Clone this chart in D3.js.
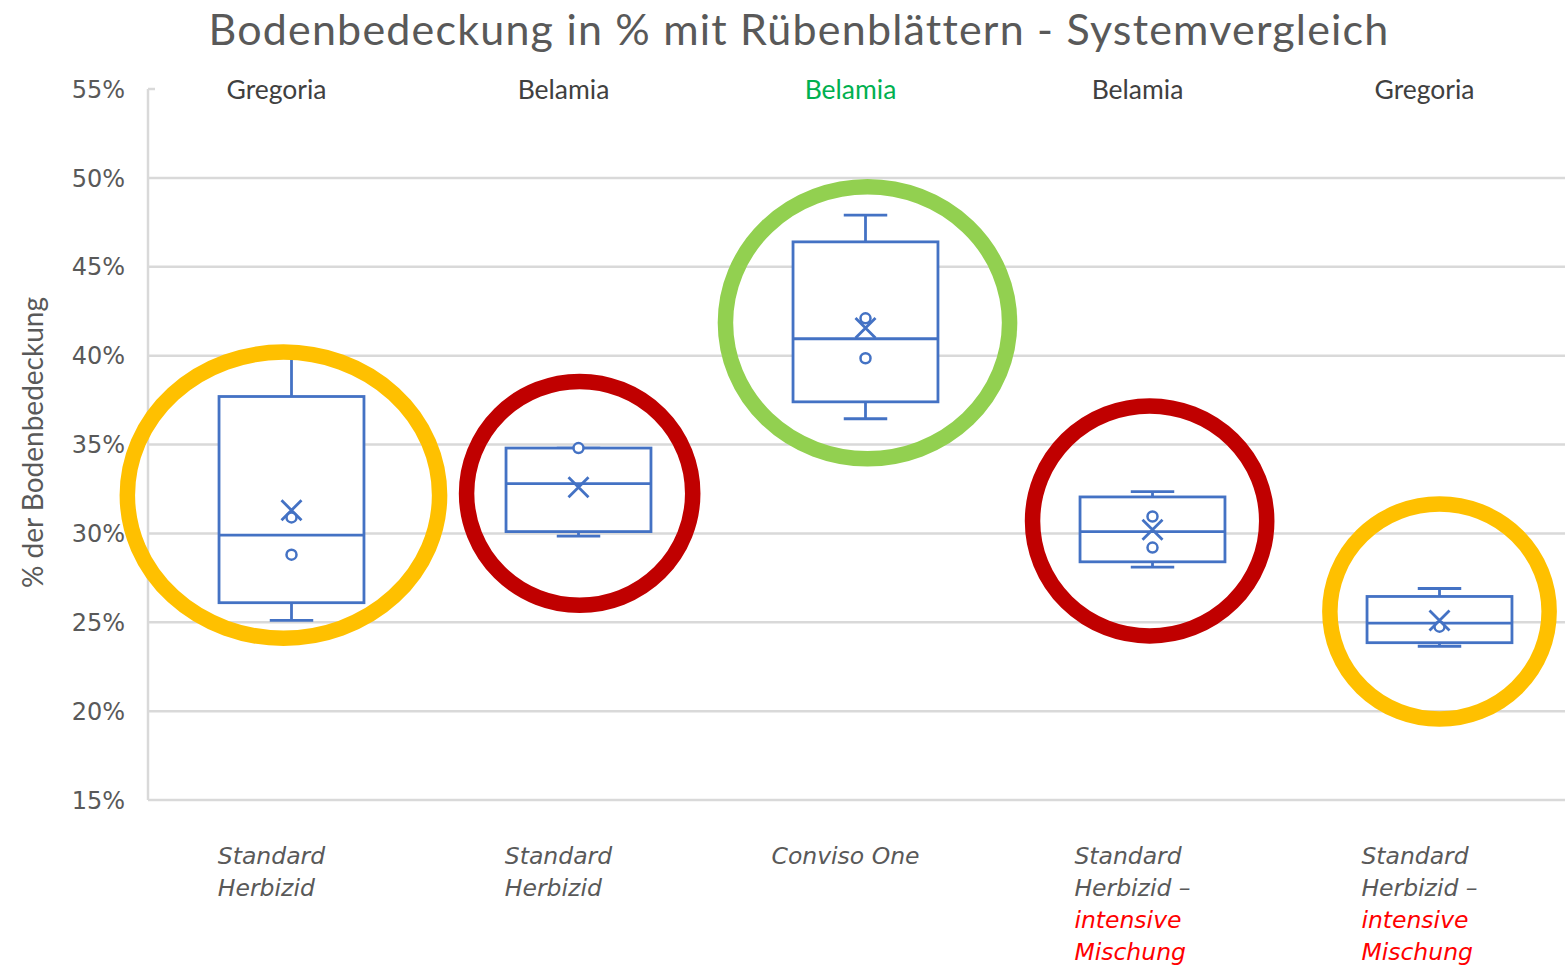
<!DOCTYPE html>
<html>
<head>
<meta charset="utf-8">
<script src="https://cdn.jsdelivr.net/npm/d3@7"></script>
<style>
  body { margin: 0; background: #fff; }
</style>
</head>
<body>
<div id="chart"></div>
<script>
// Data
const categories = ["Standard Herbizid (Gregoria)", "Standard Herbizid (Belamia)", "Conviso One (Belamia)", "Intensiv (Belamia)", "Intensiv (Gregoria)"];
const varieties = ["Gregoria", "Belamia", "Belamia", "Belamia", "Gregoria"];
const varietyHighlight = [false, false, true, false, false];
const systemLines = [
  [["Standard", false], ["Herbizid", false]],
  [["Standard", false], ["Herbizid", false]],
  [["Conviso One", false]],
  [["Standard", false], ["Herbizid –", false], ["intensive", true], ["Mischung", true]],
  [["Standard", false], ["Herbizid –", false], ["intensive", true], ["Mischung", true]]
];

// box statistics in %
const minValues    = [25.1, 29.85, 36.45, 28.1, 23.65];
const q1Values     = [26.1, 30.1, 37.4, 28.4, 23.85];
const medianValues = [29.9, 32.8, 40.95, 30.1, 24.95];
const q3Values     = [37.7, 34.8, 46.4, 32.05, 26.45];
const maxValues    = [40.3, 34.8, 47.9, 32.35, 26.9];
const meanValues   = [31.3, 32.6, 41.55, 30.2, 25.1];
const innerPoints  = [[30.9, 28.8], [34.8], [42.1, 39.85], [30.95, 29.2], [24.75]];

const yTicks = [15, 20, 25, 30, 35, 40, 45, 50, 55];

// highlight rings: colour, centre value (%), half height (%), half width (band steps), shift (band steps)
const ringColors  = ["#FFC000", "#C00000", "#92D050", "#C00000", "#FFC000"];
const ringCenters = [32.15, 32.25, 41.85, 30.7, 25.6];
const ringHalfH   = [8.05, 6.3, 7.65, 6.47, 6.05];
const ringHalfW   = [0.544, 0.394, 0.495, 0.408, 0.382];
const ringShift   = [-0.028, 0.004, 0.007, -0.01, 0.0];

const width = 1565, height = 965;
const margin = { top: 89, right: -18, bottom: 165, left: 148 };

const svg = d3.select("#chart").append("svg")
  .attr("width", width)
  .attr("height", height)
  .style("font-family", "Lato, 'Open Sans', sans-serif");

const x = d3.scaleBand()
  .domain(categories)
  .range([margin.left, width - margin.right])
  .padding(0);

const y = d3.scaleLinear()
  .domain([15, 55])
  .range([height - margin.bottom, margin.top]);

const boxColor = "#4472C4";
const gridColor = "#d9d9d9";
const textGrey = "#595959";
const lineW = 2.8;

// gridlines
svg.append("g")
  .selectAll("line")
  .data(yTicks.filter(d => d < 55))
  .join("line")
  .attr("x1", margin.left)
  .attr("x2", width - margin.right)
  .attr("y1", d => y(d))
  .attr("y2", d => y(d))
  .attr("stroke", gridColor)
  .attr("stroke-width", 2.5);

// y axis line + top tick
svg.append("line")
  .attr("x1", margin.left).attr("x2", margin.left)
  .attr("y1", y(55)).attr("y2", y(15))
  .attr("stroke", gridColor).attr("stroke-width", 2.5);
svg.append("line")
  .attr("x1", margin.left).attr("x2", margin.left + 7)
  .attr("y1", y(55)).attr("y2", y(55))
  .attr("stroke", gridColor).attr("stroke-width", 2.5);

// y tick labels
svg.append("g")
  .selectAll("text")
  .data(yTicks)
  .join("text")
  .attr("x", 125)
  .attr("y", d => y(d))
  .attr("dy", "0.36em")
  .attr("text-anchor", "end")
  .attr("font-family", "'DejaVu Sans', Verdana, sans-serif")
  .attr("font-size", "24px")
  .attr("fill", textGrey)
  .text(d => d + "%");

// y axis title
svg.append("text")
  .attr("transform", `translate(43, ${(y(55) + y(15)) / 2 - 2}) rotate(-90)`)
  .attr("text-anchor", "middle")
  .attr("font-size", "28px")
  .attr("fill", textGrey)
  .text("% der Bodenbedeckung");

// chart title
svg.append("text")
  .attr("x", 799)
  .attr("y", 45)
  .attr("text-anchor", "middle")
  .attr("font-size", "43px")
  .attr("letter-spacing", "1.2px")
  .attr("fill", textGrey)
  .text("Bodenbedeckung in % mit Rübenblättern - Systemvergleich");

// variety labels above boxes
svg.append("g")
  .selectAll("text")
  .data(categories)
  .join("text")
  .attr("x", d => x(d) + x.bandwidth() / 2 - 15)
  .attr("y", 99)
  .attr("text-anchor", "middle")
  .attr("font-size", "26.5px")
  .attr("fill", (d, i) => varietyHighlight[i] ? "#00B050" : "#404040")
  .text((d, i) => varieties[i]);

// boxes
const boxW = x.bandwidth() * 0.505;
const capW = boxW * 0.3;

const box = svg.append("g")
  .selectAll("g")
  .data(categories)
  .join("g")
  .attr("transform", d => `translate(${x(d) + x.bandwidth() / 2},0)`);

// whiskers
box.append("line")
  .attr("y1", (d, i) => y(maxValues[i]))
  .attr("y2", (d, i) => y(q3Values[i]))
  .attr("stroke", boxColor).attr("stroke-width", lineW);
box.append("line")
  .attr("y1", (d, i) => y(q1Values[i]))
  .attr("y2", (d, i) => y(minValues[i]))
  .attr("stroke", boxColor).attr("stroke-width", lineW);
box.append("line")
  .attr("x1", -capW / 2).attr("x2", capW / 2)
  .attr("y1", (d, i) => y(maxValues[i])).attr("y2", (d, i) => y(maxValues[i]))
  .attr("stroke", boxColor).attr("stroke-width", lineW);
box.append("line")
  .attr("x1", -capW / 2).attr("x2", capW / 2)
  .attr("y1", (d, i) => y(minValues[i])).attr("y2", (d, i) => y(minValues[i]))
  .attr("stroke", boxColor).attr("stroke-width", lineW);

// box body
box.append("rect")
  .attr("x", -boxW / 2)
  .attr("width", boxW)
  .attr("y", (d, i) => y(q3Values[i]))
  .attr("height", (d, i) => y(q1Values[i]) - y(q3Values[i]))
  .attr("fill", "#fff")
  .attr("stroke", boxColor)
  .attr("stroke-width", lineW);

// median
box.append("line")
  .attr("x1", -boxW / 2).attr("x2", boxW / 2)
  .attr("y1", (d, i) => y(medianValues[i])).attr("y2", (d, i) => y(medianValues[i]))
  .attr("stroke", boxColor).attr("stroke-width", lineW);

// inner points
box.each(function (d, i) {
  d3.select(this).selectAll("circle")
    .data(innerPoints[i])
    .join("circle")
    .attr("cy", v => y(v))
    .attr("r", 5)
    .attr("fill", "#fff")
    .attr("stroke", boxColor)
    .attr("stroke-width", 2.5);
});

// mean marker (x)
const m = 10;
box.append("path")
  .attr("d", (d, i) => {
    const cy = y(meanValues[i]);
    return `M${-m},${cy - m}L${m},${cy + m}M${-m},${cy + m}L${m},${cy - m}`;
  })
  .attr("stroke", boxColor)
  .attr("stroke-width", lineW)
  .attr("fill", "none");

// system labels below the axis
const step = x.step();
svg.append("g")
  .selectAll("text")
  .data(categories)
  .join("text")
  .attr("font-family", "'DejaVu Sans', Verdana, sans-serif")
  .attr("font-style", "italic")
  .attr("font-size", "23.5px")
  .each(function (d, i) {
    const t = d3.select(this);
    systemLines[i].forEach(([line, red], j) => {
      t.append("tspan")
        .attr("y", 864 + j * 32)
        .attr("fill", red ? "#FF0000" : textGrey)
        .text(line);
    });
    // left-aligned block, centred (roughly) under the box
    let w = 0;
    t.selectAll("tspan").each(function () { w = Math.max(w, this.getComputedTextLength()); });
    t.selectAll("tspan").attr("x", x(d) + x.bandwidth() / 2 - w / 2 - 20);
  });

// highlight rings
svg.append("g")
  .selectAll("ellipse")
  .data(categories)
  .join("ellipse")
  .attr("cx", (d, i) => x(d) + x.bandwidth() / 2 + ringShift[i] * step)
  .attr("cy", (d, i) => y(ringCenters[i]))
  .attr("rx", (d, i) => ringHalfW[i] * step)
  .attr("ry", (d, i) => y(ringCenters[i] - ringHalfH[i]) - y(ringCenters[i]))
  .attr("fill", "none")
  .attr("stroke", (d, i) => ringColors[i])
  .attr("stroke-width", 15.5);
</script>
</body>
</html>
